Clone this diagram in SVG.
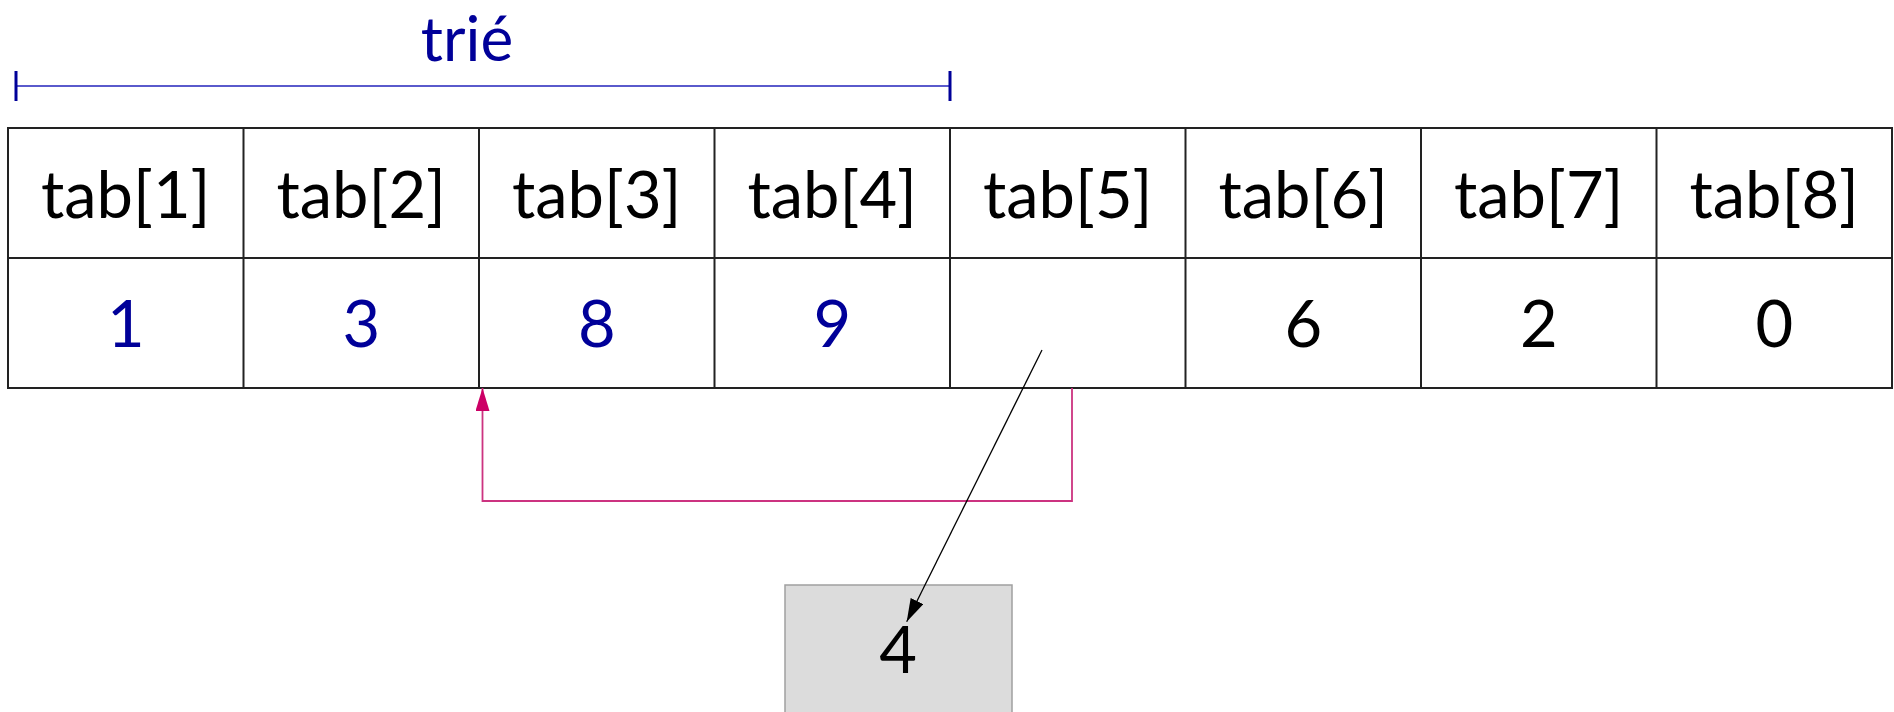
<svg xmlns="http://www.w3.org/2000/svg" width="1894" height="712" viewBox="0 0 1894 712">
<style>
.t{font-family:Lato,"Open Sans","Liberation Sans",sans-serif;font-size:65px;text-anchor:middle}
.k{fill:#000}
.b{fill:#000099}
.cell{fill:#fff;stroke:#222;stroke-width:2}
</style>
<defs>
<marker id="ah" viewBox="0 0 23 14" refX="23" refY="7" markerWidth="23" markerHeight="14" markerUnits="userSpaceOnUse" orient="auto">
<path d="M0,0 L23,7 L0,14 Z" fill="#cc0066"/>
</marker>
<marker id="ak" viewBox="0 0 23 14" refX="23" refY="7" markerWidth="23" markerHeight="14" markerUnits="userSpaceOnUse" orient="auto">
<path d="M0,0 L23,7 L0,14 Z" fill="#000"/>
</marker>
</defs>
<rect width="1894" height="712" fill="#fff"/>
<g id="sorted-range">
<line x1="16" y1="86" x2="950" y2="86" stroke="#5a5acc" stroke-width="1.8"/>
<line x1="16" y1="71" x2="16" y2="101" stroke="#000099" stroke-width="3"/>
<line x1="950" y1="71" x2="950" y2="101" stroke="#000099" stroke-width="3"/>
<text class="b" x="467" y="61" style="font-family:Lato,'Open Sans','Liberation Sans',sans-serif;font-size:62px;text-anchor:middle">trié</text>
</g>
<g id="table">
<rect class="cell" x="8" y="128" width="1884" height="260"/>
<line x1="8" y1="258" x2="1892" y2="258" stroke="#222" stroke-width="2"/>
<g stroke="#222" stroke-width="2">
<line x1="243.5" y1="128" x2="243.5" y2="388"/>
<line x1="479" y1="128" x2="479" y2="388"/>
<line x1="714.5" y1="128" x2="714.5" y2="388"/>
<line x1="950" y1="128" x2="950" y2="388"/>
<line x1="1185.5" y1="128" x2="1185.5" y2="388"/>
<line x1="1421" y1="128" x2="1421" y2="388"/>
<line x1="1656.5" y1="128" x2="1656.5" y2="388"/>
</g>
</g>
<g id="headers">
<text class="t k" x="125.75" y="218">tab[1]</text>
<text class="t k" x="361.25" y="218">tab[2]</text>
<text class="t k" x="596.75" y="218">tab[3]</text>
<text class="t k" x="832.25" y="218">tab[4]</text>
<text class="t k" x="1067.75" y="218">tab[5]</text>
<text class="t k" x="1303.25" y="218">tab[6]</text>
<text class="t k" x="1538.75" y="218">tab[7]</text>
<text class="t k" x="1774.25" y="218">tab[8]</text>
</g>
<g id="values">
<text class="t b" x="125.75" y="347">1</text>
<text class="t b" x="361.25" y="347">3</text>
<text class="t b" x="596.75" y="347">8</text>
<text class="t b" x="832.25" y="347">9</text>
<text class="t k" x="1303.25" y="347">6</text>
<text class="t k" x="1538.75" y="347">2</text>
<text class="t k" x="1774.25" y="347">0</text>
</g>
<g id="temp">
<rect x="785" y="585" width="227" height="140" fill="#dcdcdc" stroke="#a0a0a0" stroke-width="1.5"/>
<text class="t k" x="898" y="673">4</text>
</g>
<g id="connectors" fill="none">
<polyline points="1072,388 1072,501 482.5,501 482.5,388" stroke="#cc3380" stroke-width="1.8" marker-end="url(#ah)"/>
<line x1="1042" y1="350" x2="906.7" y2="621.7" stroke="#000" stroke-width="1.3" marker-end="url(#ak)"/>
</g>
</svg>
